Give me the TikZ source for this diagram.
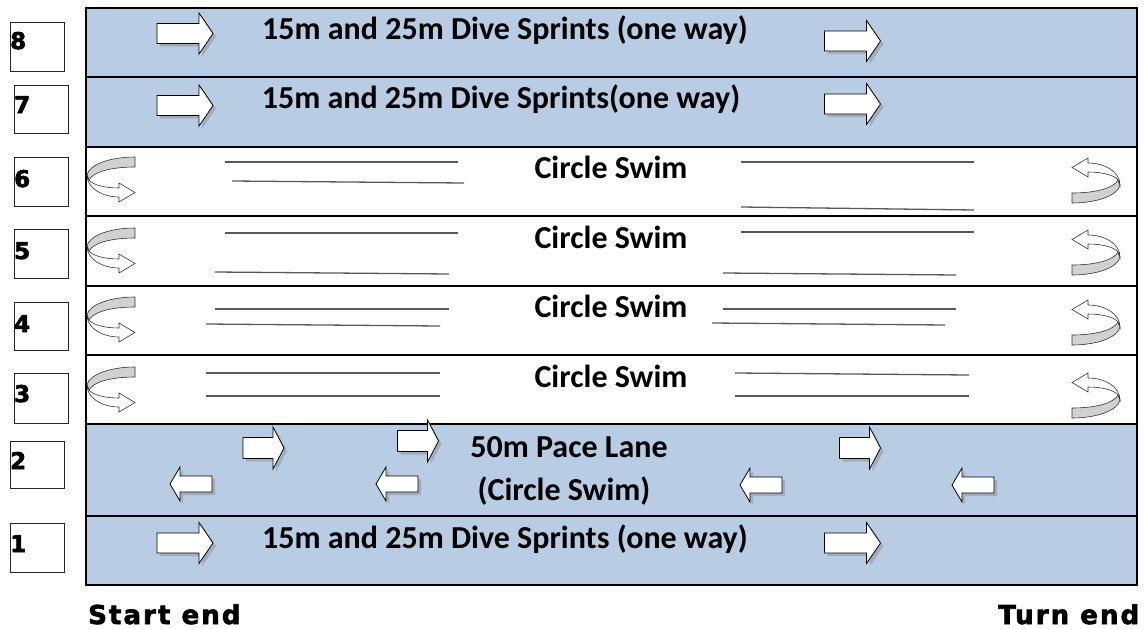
\documentclass[tikz,border=0pt]{standalone}
\usepackage{fontspec}
\setmainfont{Carlito}
\newfontfamily\blk{DejaVu Sans}[LetterSpace=8, BoldFeatures={FakeBold=2.5}]
\newfontfamily\numf{DejaVu Sans}[BoldFeatures={FakeBold=2.5}]
\usetikzlibrary{shadows}
\definecolor{lanebl}{RGB}{184,204,228}
\tikzset{
  lane/.style={draw=black, line width=2.5pt, fill=white},
  bluelane/.style={lane, fill=lanebl},
  numbox/.style={draw=black!85, line width=0.9pt, fill=white},
  numtxt/.style={anchor=base west, inner sep=0pt, font=\numf\bfseries\fontsize{23}{23}\selectfont},
  lanetxt/.style={anchor=base, inner sep=0pt, font=\bfseries\fontsize{32}{38}\selectfont},
  endtxt/.style={anchor=base west, inner sep=0pt, font=\blk\bfseries\fontsize{26}{26}\selectfont},
  blockarrow/.style={draw=black, line width=0.8pt, fill=white, line join=miter,
    drop shadow={opacity=0.4, shadow xshift=3pt, shadow yshift=-3pt}},
  guide/.style={draw=black!65, line width=1.3pt},
  bigR/.pic={
    \path[blockarrow] (-28,-10) -- (14,-10) -- (14,-20.5) -- (28,0) -- (14,20.5)
      -- (14,10) -- (-28,10) -- cycle;
  },
  midR/.pic={
    \path[blockarrow] (-20.5,-10.5) -- (9.5,-10.5) -- (9.5,-21) -- (20.5,0) -- (9.5,21)
      -- (9.5,10.5) -- (-20.5,10.5) -- cycle;
  },
  smallL/.pic={
    \path[blockarrow] (21,-8) -- (-11,-8) -- (-11,-17) -- (-21,0) -- (-11,17)
      -- (-11,8) -- (21,8) -- cycle;
  },
  uturn/.pic={
    \draw[black!80, line width=0.6pt, fill=black!18]
      (48,0) .. controls (22,0) and (2,8) .. (0,18) -- (2,23)
      .. controls (6,15) and (24,10) .. (48,10) -- cycle;
    \draw[black!80, line width=0.6pt, fill=white]
      (0,18) .. controls (0,31) and (15,40) .. (32,40) -- (32,45) -- (48,35.5)
      -- (32,26) -- (32,31) .. controls (18,31) and (6,28) .. (2,23) -- cycle;
  }
}
\begin{document}
\begin{tikzpicture}[x=1pt, y=-1pt]
\useasboundingbox (0,0) rectangle (1146,629);
% lanes
\draw[bluelane] (86,8) rectangle (1137,77);
\draw[bluelane] (86,77) rectangle (1137,147);
\draw[lane] (86,147) rectangle (1137,216);
\draw[lane] (86,216) rectangle (1137,286);
\draw[lane] (86,286) rectangle (1137,355);
\draw[lane] (86,355) rectangle (1137,424);
\draw[bluelane] (86,424) rectangle (1137,516);
\draw[bluelane] (86,516) rectangle (1137,585);
% number boxes
\draw[numbox] (10,22) rectangle (64,71);
\draw[numbox] (14,85) rectangle (68,133);
\draw[numbox] (14,157) rectangle (68,206);
\draw[numbox] (14,229) rectangle (68,278);
\draw[numbox] (14,302) rectangle (68,350);
\draw[numbox] (14,373) rectangle (68,423);
\draw[numbox] (10,441) rectangle (64,488);
\draw[numbox] (10,523) rectangle (64,572);
\node[numtxt] (n8) at (10,49) {8};
\node[numtxt] (n7) at (14,113) {7};
\node[numtxt] (n6) at (14,187) {6};
\node[numtxt] (n5) at (14,259) {5};
\node[numtxt] (n4) at (14,332) {4};
\node[numtxt] (n3) at (14,402) {3};
\node[numtxt] (n2) at (10,469) {2};
\node[numtxt] (n1) at (10,552) {1};
% lane texts
\node[lanetxt] (t8) at (505,39) {15m and 25m Dive Sprints (one way)};
\node[lanetxt] (t7) at (501,108) {15m and 25m Dive Sprints(one way)};
\node[lanetxt] (t6) at (611,178) {Circle Swim};
\node[lanetxt] (t5) at (611,248) {Circle Swim};
\node[lanetxt] (t4) at (611,317) {Circle Swim};
\node[lanetxt] (t3) at (611,387) {Circle Swim};
\node[lanetxt] (t2a) at (569,457) {50m Pace Lane};
\node[lanetxt] (t2b) at (564,500) {(Circle Swim)};
\node[lanetxt] (t1) at (505,548) {15m and 25m Dive Sprints (one way)};
% block arrows
\pic at (185,33.5) {bigR};
\pic at (852.5,41) {bigR};
\pic at (185,105.5) {bigR};
\pic at (852.5,104) {bigR};
\pic at (185,543) {bigR};
\pic at (852.5,543) {bigR};
\pic at (263.5,448) {midR};
\pic at (418,441) {midR};
\pic at (860,448) {midR};
\pic at (191,484) {smallL};
\pic at (397,484) {smallL};
\pic at (761,485) {smallL};
\pic at (973,485) {smallL};
% guide lines
\draw[guide] (225,162) -- (458,162);
\draw[guide] (232,181) -- (464,183);
\draw[guide] (741,162) -- (974,162);
\draw[guide] (741,207) -- (974,210);
\draw[guide] (225,233) -- (458,233);
\draw[guide] (215,272) -- (449,274);
\draw[guide] (741,232) -- (974,232);
\draw[guide] (723,273) -- (956,275);
\draw[guide] (215,309) -- (449,309);
\draw[guide] (206,324) -- (440,326);
\draw[guide] (723,309) -- (956,309);
\draw[guide] (712,323) -- (945,325);
\draw[guide] (206,373) -- (440,373);
\draw[guide] (206,396) -- (440,396);
\draw[guide] (735,373) -- (969,375);
\draw[guide] (735,396) -- (969,396);
% U-turn arrows
\pic at (87,157) {uturn};
\pic at (87,228) {uturn};
\pic at (87,297) {uturn};
\pic at (87,367) {uturn};
\pic[rotate=180] at (1120,203) {uturn};
\pic[rotate=180] at (1120,275) {uturn};
\pic[rotate=180] at (1120,345) {uturn};
\pic[rotate=180] at (1120,418) {uturn};
% end labels
\node[endtxt] (se) at (88,624) {Start end};
\node[endtxt] (te) at (998,624) {Turn end};
\end{tikzpicture}
\end{document}
